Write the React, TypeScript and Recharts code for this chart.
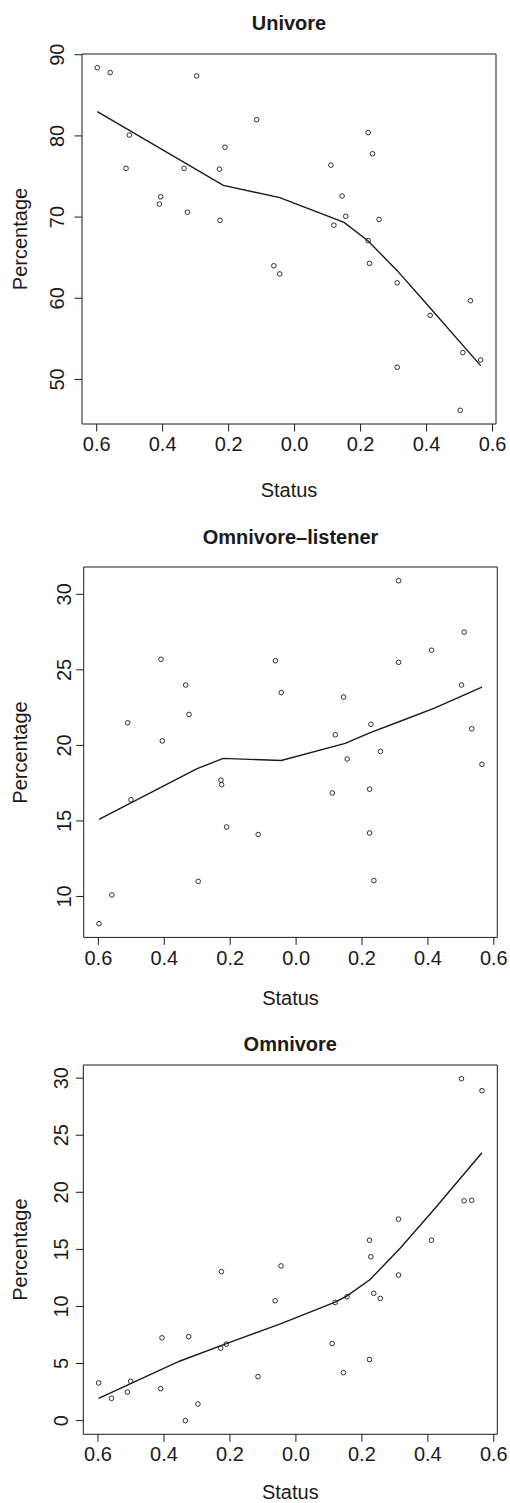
import React from 'react';
import { ScatterChart, Scatter, XAxis, YAxis, ReferenceArea } from 'recharts';

// Shared status scores (x) of the 31 units
const status = [-0.598, -0.559, -0.511, -0.501, -0.410, -0.406, -0.335, -0.325, -0.297, -0.228, -0.226, -0.211, -0.115, -0.063, -0.045, 0.110, 0.119, 0.144, 0.155, 0.223, 0.223, 0.227, 0.236, 0.256, 0.311, 0.311, 0.411, 0.502, 0.510, 0.533, 0.564];
const univore = [88.4, 87.8, 76.0, 80.1, 71.6, 72.5, 76.0, 70.6, 87.4, 75.9, 69.6, 78.6, 82.0, 64.0, 63.0, 76.4, 69.0, 72.6, 70.1, 80.4, 67.1, 64.3, 77.8, 69.7, 61.9, 51.5, 57.9, 46.2, 53.3, 59.7, 52.4];
const listener = [8.2, 10.1, 21.5, 16.4, 25.7, 20.3, 24.0, 22.05, 11.0, 17.7, 17.4, 14.6, 14.1, 25.6, 23.5, 16.85, 20.7, 23.2, 19.1, 14.2, 17.1, 21.4, 11.05, 19.6, 25.5, 30.9, 26.3, 24.0, 27.5, 21.1, 18.75];
const omnivore = [3.3, 1.95, 2.5, 3.45, 2.8, 7.25, 0.0, 7.35, 1.45, 6.35, 13.05, 6.7, 3.85, 10.5, 13.55, 6.75, 10.35, 4.2, 10.85, 5.35, 15.8, 14.35, 11.15, 10.7, 12.75, 17.65, 15.8, 29.95, 19.25, 19.3, 28.9];

// Smoothed (lowess) curves
const univoreFitX = [-0.598, -0.216, -0.045, 0.150, 0.223, 0.311, 0.411, 0.564];
const univoreFitY = [83.0, 73.9, 72.4, 69.35, 67.05, 63.4, 58.8, 51.7];
const listenerFitX = [-0.598, -0.302, -0.221, -0.045, 0.149, 0.225, 0.316, 0.418, 0.564];
const listenerFitY = [15.1, 18.45, 19.14, 19.0, 20.13, 20.85, 21.6, 22.45, 23.86];
const omnivoreFitX = [-0.598, -0.353, -0.213, -0.045, 0.119, 0.154, 0.225, 0.316, 0.418, 0.564];
const omnivoreFitY = [1.95, 5.2, 6.72, 8.5, 10.38, 10.9, 12.36, 15.1, 18.47, 23.46];

// Tick labels
const xTicks = [-0.6, -0.4, -0.2, 0.0, 0.2, 0.4, 0.6];
const univoreTicks = [50, 60, 70, 80, 90];
const listenerTicks = [10, 15, 20, 25, 30];
const omnivoreTicks = [0, 5, 10, 15, 20, 25, 30];

const titles = ['Univore', 'Omnivore\u2013listener', 'Omnivore'];
const xLabel = 'Status';
const yLabel = 'Percentage';

const FONT = '"Liberation Sans", Arial, Helvetica, sans-serif';
const INK = '#1a1a1a';

const zip = (xs: number[], ys: number[]) => xs.map((x, i) => ({ x, y: ys[i] }));

type Panel = {
  title: string;
  points: { x: number; y: number }[];
  fit: { x: number; y: number }[];
  yTicks: number[];
  yDomain: [number, number];
  L: number; R: number; T: number; B: number;
  yGap: number;
  titleY: number;
  statusY: number;
};

const xDomain: [number, number] = [-0.6445, 0.6105];

const panels: Panel[] = [
  { title: titles[0], points: zip(status, univore), fit: zip(univoreFitX, univoreFitY), yTicks: univoreTicks, yDomain: [44.51, 90.09], L: 82, R: 496, T: 54, B: 424, yGap: 18, titleY: 30, statusY: 497 },
  { title: titles[1], points: zip(status, listener), fit: zip(listenerFitX, listenerFitY), yTicks: listenerTicks, yDomain: [7.29, 31.81], L: 83.7, R: 497.3, T: 567.3, B: 937.7, yGap: 13, titleY: 544, statusY: 1005 },
  { title: titles[2], points: zip(status, omnivore), fit: zip(omnivoreFitX, omnivoreFitY), yTicks: omnivoreTicks, yDomain: [-1.2, 31.15], L: 83.3, R: 497.3, T: 1065, B: 1434.3, yGap: 15, titleY: 1050.5, statusY: 1499 },
];

const Circle = (props: any) => {
  const { cx, cy } = props;
  if (cx == null || cy == null) return <g />;
  return <circle cx={cx} cy={cy} r={2.3} fill="none" stroke={INK} strokeWidth={0.9} />;
};

const NoShape = () => <g />;

const PanelChart = ({ p }: { p: Panel }) => {
  const MT = 10;
  const XH = 40;
  const H = MT + (p.B - p.T) + XH;
  const YTick = (props: any) => {
    const { y, payload } = props;
    const x = p.L - p.yGap;
    return (
      <text x={x} y={y} transform={`rotate(-90 ${x} ${y})`} textAnchor="middle" fill={INK} fontSize={20} fontFamily={FONT}>
        {payload.value}
      </text>
    );
  };
  return (
    <div style={{ position: 'absolute', left: 0, top: p.T - MT }}>
      <ScatterChart width={510} height={H} margin={{ top: MT, right: 510 - p.R, bottom: 0, left: 0 }}>
        <XAxis
          type="number"
          dataKey="x"
          domain={xDomain}
          ticks={xTicks}
          interval={0}
          allowDataOverflow
          axisLine={false}
          tickLine={{ stroke: INK, strokeWidth: 1 }}
          tickSize={7.5}
          tickMargin={5.5}
          height={XH}
          tickFormatter={(v: number) => Math.abs(v).toFixed(1)}
          tick={{ fill: INK, fontSize: 20, fontFamily: FONT }}
        />
        <YAxis
          type="number"
          dataKey="y"
          domain={p.yDomain}
          ticks={p.yTicks}
          interval={0}
          allowDataOverflow
          axisLine={false}
          tickLine={{ stroke: INK, strokeWidth: 1 }}
          tickSize={7.5}
          width={p.L}
          tick={YTick}
        />
        <ReferenceArea x1={xDomain[0]} x2={xDomain[1]} y1={p.yDomain[0]} y2={p.yDomain[1]} fill="none" stroke={INK} strokeWidth={1} fillOpacity={0} />
        <Scatter data={p.points} shape={Circle} isAnimationActive={false} />
        <Scatter data={p.fit} shape={NoShape} line={{ stroke: INK, strokeWidth: 1.4 }} lineType="joint" isAnimationActive={false} />
      </ScatterChart>
    </div>
  );
};

export default function App() {
  return (
    <div style={{ position: 'absolute', left: 0, top: 0, width: 510, height: 1503, background: '#fff', overflow: 'hidden' }}>
      {panels.map((p, i) => (
        <PanelChart key={i} p={p} />
      ))}
      <svg width={510} height={1503} style={{ position: 'absolute', left: 0, top: 0, pointerEvents: 'none' }}>
        {panels.map((p, i) => {
          const cx = (p.L + p.R) / 2;
          const cy = (p.T + p.B) / 2;
          return (
            <g key={i} fontFamily={FONT} fill={INK} fontSize={20}>
              <text x={cx} y={p.titleY} textAnchor="middle" fontWeight="bold">{p.title}</text>
              <text x={cx} y={p.statusY} textAnchor="middle">{xLabel}</text>
              <text x={27} y={cy} textAnchor="middle" transform={`rotate(-90 27 ${cy})`}>{yLabel}</text>
            </g>
          );
        })}
      </svg>
    </div>
  );
}
